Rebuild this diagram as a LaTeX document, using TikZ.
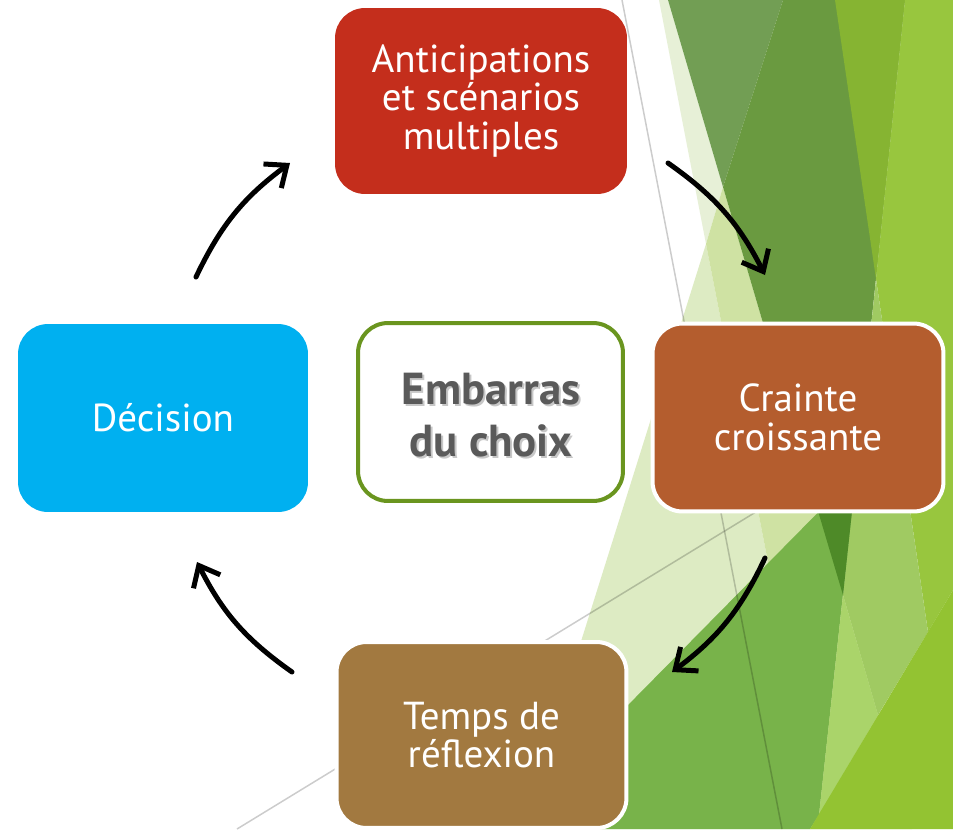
\documentclass[tikz,border=0pt]{standalone}
\usepackage{fontspec}
\setmainfont{PT Sans}
\usetikzlibrary{arrows.meta}
\definecolor{cA}{HTML}{E7F0D7}
\definecolor{cB}{HTML}{DDEBC3}
\definecolor{cC}{HTML}{CFE2A3}
\definecolor{cD}{HTML}{729E54}
\definecolor{cE}{HTML}{6A9A40}
\definecolor{cF}{HTML}{86B432}
\definecolor{cG}{HTML}{98C63E}
\definecolor{cH}{HTML}{A0CA62}
\definecolor{cI}{HTML}{93C332}
\definecolor{cJ}{HTML}{AAD46A}
\definecolor{cK}{HTML}{78B34A}
\definecolor{cL}{HTML}{4E8A28}
\definecolor{redbox}{HTML}{C42E1C}
\definecolor{orangebox}{HTML}{B45D2E}
\definecolor{brownbox}{HTML}{A27940}
\definecolor{bluebox}{HTML}{00B0F0}
\definecolor{greenborder}{HTML}{6A951F}
\definecolor{embtext}{HTML}{5A5A5A}
\begin{document}
\begin{tikzpicture}[x=0.02cm,y=-0.02cm,
  box/.style={rounded corners=0.6cm, align=center, text=white,
    font=\fontsize{22.2}{22}\selectfont, inner sep=0pt},
  arr/.style={line width=0.1cm, line cap=round, line join=round,
    -{Straight Barb[length=0.36cm,width=0.6cm]}},
  grayline/.style={draw=black, draw opacity=0.2, line width=0.03cm}]
\useasboundingbox (0,0) rectangle (953,829);
\fill[white] (0,0) rectangle (953,829);
% background facets
\fill[cA] (659,0) -- (668,0) -- (723,187) -- (706,244) -- cycle;
\fill[cB] (706,244) -- (820,829) -- (522,829) -- cycle;
\fill[cC] (723,187) -- (706,244) -- (820,829) -- (912,829) -- cycle;
\fill[cD] (668,0) -- (783,0) -- (723,187) -- cycle;
\fill[cE] (783,0) -- (905,0) -- (843,595) -- (723,187) -- cycle;
\fill[cF] (835,0) -- (905,0) -- (876,279) -- cycle;
\fill[cG] (905,0) -- (953,0) -- (953,590) -- (928,632) -- (876,279) -- cycle;
\fill[cH] (876,279) -- (928,632) -- (878,715) -- (843,595) -- cycle;
\fill[cK] (560,774) -- (856,474) -- (819,815) -- (810,829) -- (560,829) -- cycle;
\fill[cL] (818,511) -- (856,474) -- (843,595) -- cycle;
\fill[cJ] (843,595) -- (878,715) -- (819,815) -- cycle;
\fill[cI] (953,590) -- (953,829) -- (810,829) -- cycle;
% thin lines
\coordinate (g1a) at (622,0);
\coordinate (g1b) at (782,829);
\coordinate (g2a) at (237,829);
\coordinate (g2b) at (800,485);
\draw[grayline] (g1a) -- (g1b);
\draw[grayline] (g2a) -- (g2b);
% boxes
\node[box, fill=redbox, minimum width=5.84cm, minimum height=3.72cm] (antic) at (481,101)
  {Anticipations\\et scénarios\\multiples};
\node[box, fill=orangebox, draw=white, line width=0.08cm, minimum width=5.82cm, minimum height=3.76cm] (crainte) at (798,417.5)
  {Crainte\\croissante};
\node[box, fill=brownbox, draw=white, line width=0.08cm, minimum width=5.80cm, minimum height=3.72cm] (temps) at (481.5,735)
  {Temps de\\réflexion};
\node[box, fill=bluebox, minimum width=5.80cm, minimum height=3.76cm] (decision) at (163,418)
  {Décision};
\node[box, fill=white, draw=greenborder, line width=0.08cm, minimum width=5.30cm, minimum height=3.56cm] (centre) at (490.5,412) {};
\node[align=center, text=black!22, font=\bfseries\fontsize{25.5}{29.5}\selectfont] (embshadow) at (493,417)
  {Embarras\\du choix};
\node[align=center, text=embtext, font=\bfseries\fontsize{25.5}{29.5}\selectfont] (emb) at (491,415)
  {Embarras\\du choix};
% arrows
\coordinate (a1s) at (196,277);
\coordinate (a1e) at (290,163);
\coordinate (a2s) at (668,163);
\coordinate (a2e) at (765,275);
\coordinate (a3s) at (765,558);
\coordinate (a3e) at (672,672);
\coordinate (a4s) at (292,672);
\coordinate (a4e) at (197,562);
\draw[arr] (a1s) to[bend left=14] (a1e);
\draw[arr] (a2s) to[bend left=14] (a2e);
\draw[arr] (a3s) to[bend left=14] (a3e);
\draw[arr] (a4s) to[bend left=14] (a4e);
\end{tikzpicture}
\end{document}
